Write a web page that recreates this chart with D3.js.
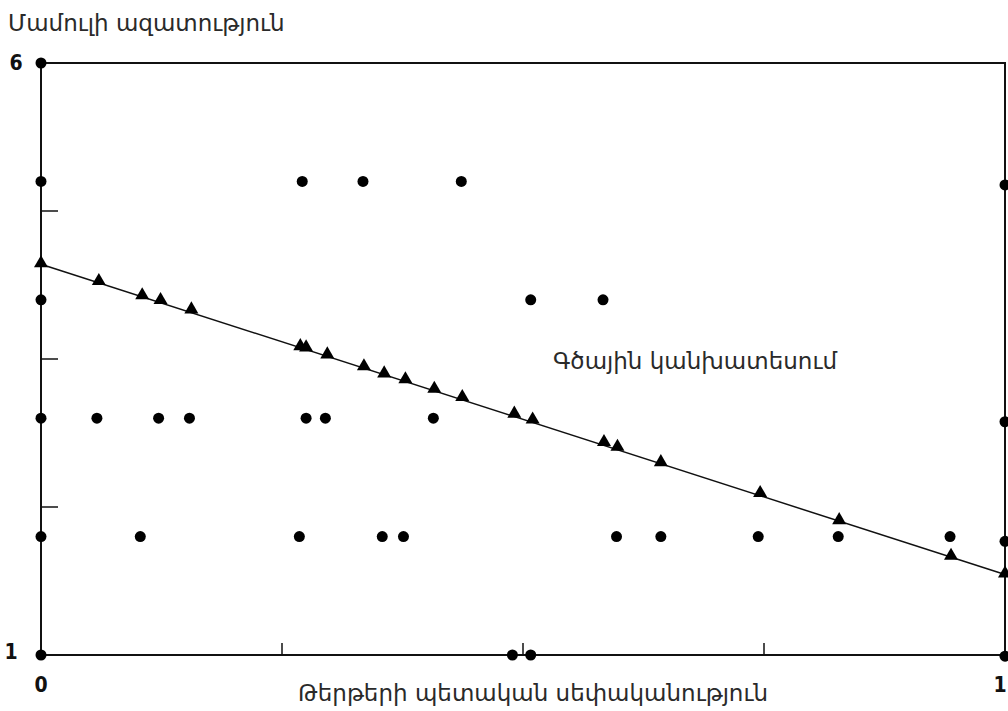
<!DOCTYPE html>
<html>
<head>
<meta charset="UTF-8">
<title>Մամուլի ազատություն</title>
<script src="https://d3js.org/d3.v7.min.js"></script>
<style>
  body { margin: 0; background: #fff; }
  .lbl { font-family: "DejaVu Sans", "Noto Sans", sans-serif; fill: #2a2a2a; font-size: 23px; }
  .num { font-family: "DejaVu Sans Condensed", "Liberation Sans Narrow", sans-serif; font-weight: bold; font-size: 21px; fill: #111; }
</style>
</head>
<body>
<script>
// observed points (state ownership share, press freedom score)
var dotX = [0, 0, 0.271, 0.334, 0.436, 1,
            0, 0.508, 0.583,
            0, 0.058, 0.122, 0.154, 0.275, 0.295, 0.407, 1,
            0, 0.103, 0.268, 0.354, 0.376, 0.597, 0.643, 0.744, 0.827, 0.943, 1,
            0, 0.489, 0.508, 1];
var dotY = [6, 5, 5, 5, 5, 4.97,
            4, 4, 4,
            3, 3, 3, 3, 3, 3, 3, 2.97,
            2, 2, 2, 2, 2, 2, 2, 2, 2, 2, 1.96,
            1, 1, 1, 0.99];

// linear prediction points
var triX = [0, 0.060, 0.105, 0.124, 0.156, 0.269, 0.275, 0.297, 0.335, 0.356, 0.378,
            0.408, 0.437, 0.491, 0.510, 0.584, 0.598, 0.643, 0.746, 0.828, 0.944, 1];
var triY = [4.30, 4.15, 4.03, 3.99, 3.91, 3.60, 3.59, 3.53, 3.43, 3.37, 3.32,
            3.24, 3.17, 3.03, 2.98, 2.79, 2.75, 2.62, 2.36, 2.13, 1.83, 1.68];

// fitted line ends
var lineX = [0, 1];
var lineY = [4.30, 1.68];

var xTicks = [0.25, 0.5, 0.75];
var yTicks = [4.75, 3.5, 2.25];

var W = 1008, H = 711;
var svg = d3.select("body").append("svg").attr("width", W).attr("height", H);

var x = d3.scaleLinear().domain([0, 1]).range([41, 1005]);
var y = d3.scaleLinear().domain([1, 6]).range([655, 63]);

// frame
svg.append("rect")
  .attr("x", x(0)).attr("y", y(6))
  .attr("width", x(1) - x(0)).attr("height", y(1) - y(6))
  .attr("fill", "none").attr("stroke", "#111").attr("stroke-width", 2);

// inner ticks
svg.selectAll(".xt").data(xTicks).enter().append("line")
  .attr("x1", d => x(d)).attr("x2", d => x(d))
  .attr("y1", y(1)).attr("y2", y(1) - 12)
  .attr("stroke", "#111").attr("stroke-width", 1.5);
svg.selectAll(".yt").data(yTicks).enter().append("line")
  .attr("x1", x(0)).attr("x2", x(0) + 17)
  .attr("y1", d => y(d)).attr("y2", d => y(d))
  .attr("stroke", "#111").attr("stroke-width", 1.5);

// regression line
svg.append("path")
  .datum(d3.zip(lineX, lineY))
  .attr("d", d3.line().x(d => x(d[0])).y(d => y(d[1])))
  .attr("fill", "none").attr("stroke", "#111").attr("stroke-width", 1.5);

// dots
svg.selectAll(".dot").data(d3.zip(dotX, dotY)).enter().append("circle")
  .attr("cx", d => x(d[0])).attr("cy", d => y(d[1]))
  .attr("r", 5.5).attr("fill", "#000");

// triangles
var tri = d3.symbol().type(d3.symbolTriangle).size(85);
svg.selectAll(".tri").data(d3.zip(triX, triY)).enter().append("path")
  .attr("d", tri)
  .attr("transform", d => "translate(" + x(d[0]) + "," + (y(d[1]) - 1) + ")")
  .attr("fill", "#000");

// tick numbers
svg.append("text").attr("class", "num").attr("x", 16).attr("y", 70).attr("text-anchor", "middle").text("6");
svg.append("text").attr("class", "num").attr("x", 11).attr("y", 659).attr("text-anchor", "middle").text("1");
svg.append("text").attr("class", "num").attr("x", x(0)).attr("y", 692).attr("text-anchor", "middle").text("0");
svg.append("text").attr("class", "num").attr("x", 1000).attr("y", 692).attr("text-anchor", "middle").text("1");

// titles
svg.append("text").attr("class", "lbl").attr("x", 8).attr("y", 31)
  .text("Մամուլի ազատություն");
svg.append("text").attr("class", "lbl").attr("x", 533).attr("y", 701)
  .attr("text-anchor", "middle")
  .text("Թերթերի պետական սեփականություն");
svg.append("text").attr("class", "lbl").attr("x", 553).attr("y", 369)
  .text("Գծային կանխատեսում");
</script>
</body>
</html>
